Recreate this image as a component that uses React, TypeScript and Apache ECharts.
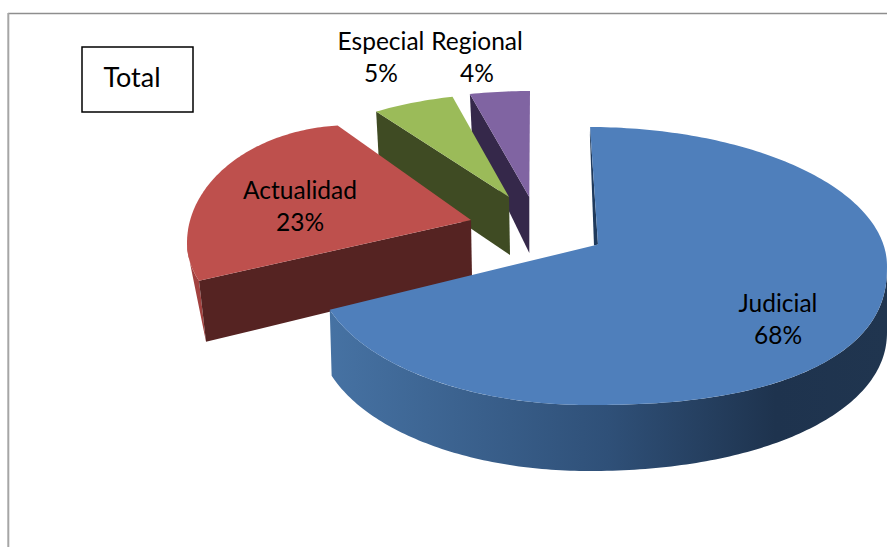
import React, { useEffect, useRef } from "react";
import * as echarts from "echarts";

const categories = ["Judicial", "Actualidad", "Especial", "Regional"];
const shares = [68, 23, 5, 4];
const boxTitle = "Total";

const topColors = ["#4f7fbb", "#be504d", "#9bbb59", "#8064a2"];
const cutColors = ["#1f3a5c", "#552322", "#3f4b23", "#35284a"];
const FONT = "Lato, Carlito, sans-serif";

type Oval = { cx: number; cy: number; rxL: number; rxR: number; ryT: number; ryB: number; nBR?: number };
type Layout = {
  rim: Oval;
  warp: [number, number];
  apex: [number, number];
  rimDepth: [number, number];
  apexDepth: [number, number];
  outer?: { from: number; bottom?: Oval; d1?: [number, number]; d2?: [number, number]; fill: any };
  label: [number, number];
};

// Hand-tuned projection of the tilted, exploded pie; the slice angles come from `shares`.
const layouts: Layout[] = [
  {
    rim: { cx: 588, cy: 266, rxL: 272, rxR: 299, ryT: 139, ryB: 139, nBR: 2.35 },
    warp: [0.4, 6.9],
    apex: [598, 244.5],
    rimDepth: [-0.2, 8],
    apexDepth: [-4, 1],
    outer: {
      from: 90,
      bottom: { cx: 588, cy: 332, rxL: 270, rxR: 299, ryT: 139, ryB: 139, nBR: 2.1 },
      fill: {
        type: "linear", x: 329, y: 0, x2: 887, y2: 0, global: true,
        colorStops: [
          { offset: 0, color: "#4672a3" },
          { offset: 0.5, color: "#2f5078" },
          { offset: 0.8, color: "#1e334e" },
          { offset: 1, color: "#20354f" },
        ],
      },
    },
    label: [778, 318],
  },
  {
    rim: { cx: 352, cy: 243, rxL: 165, rxR: 165, ryT: 118, ryB: 101 },
    warp: [3.2, 27.4],
    apex: [471, 220],
    rimDepth: [7, 61],
    apexDepth: [1, 57],
    outer: { from: 270, d1: [7, 61], d2: [3, 20], fill: "#a2413f" },
    label: [300, 205],
  },
  {
    rim: { cx: 505, cy: 251, rxL: 280, rxR: 280, ryT: 157, ryB: 157 },
    warp: [5.0, 3.6],
    apex: [509, 197],
    rimDepth: [3, 55],
    apexDepth: [1, 58],
    label: [381, 56.5],
  },
  {
    rim: { cx: 530, cy: 221, rxL: 280, rxR: 280, ryT: 130, ryB: 130 },
    warp: [2, 0],
    apex: [529.3, 197],
    rimDepth: [2, 41],
    apexDepth: [0, 56],
    label: [477, 56.5],
  },
];

const total = shares.reduce((a, b) => a + b, 0);
const drawOrder = [3, 2, 1, 0];

function rimPoint(o: Oval, deg: number): [number, number] {
  const t = (deg * Math.PI) / 180;
  let s = Math.sin(t);
  let c = Math.cos(t);
  if (o.nBR && s > 0 && c < 0) {
    const e = 2 / o.nBR;
    s = Math.pow(s, e);
    c = -Math.pow(-c, e);
  }
  return [o.cx + s * (s < 0 ? o.rxL : o.rxR), o.cy - c * (c > 0 ? o.ryT : o.ryB)];
}

function arc(o: Oval, a: number, b: number): [number, number][] {
  const n = Math.max(2, Math.ceil(Math.abs(b - a)));
  const pts: [number, number][] = [];
  for (let i = 0; i <= n; i++) pts.push(rimPoint(o, a + ((b - a) * i) / n));
  return pts;
}

function sliceAngles(i: number): [number, number] {
  const before = shares.slice(0, i).reduce((a, b) => a + b, 0);
  const start = (before / total) * 360;
  const end = ((before + shares[i]) / total) * 360;
  return [start + layouts[i].warp[0], end + layouts[i].warp[1]];
}

function renderSlice(_params: any, api: any) {
  const i = api.value(0) as number;
  const l = layouts[i];
  const [a, b] = sliceAngles(i);
  const children: any[] = [];
  const rimStart = rimPoint(l.rim, a);

  if (l.outer) {
    const o = l.outer;
    const upper = arc(l.rim, o.from, i === 0 ? b : a);
    let lower: [number, number][];
    if (o.bottom) {
      lower = arc(o.bottom, i === 0 ? b : a, o.from);
    } else {
      const p = upper[upper.length - 1];
      const q = upper[0];
      lower = [
        [p[0] + o.d1![0], p[1] + o.d1![1]],
        [q[0] + o.d2![0], q[1] + o.d2![1]],
      ];
    }
    children.push({
      type: "polygon",
      shape: { points: [...upper, ...lower] },
      style: { fill: o.fill },
    });
  }

  const cut: [number, number][] = [
    rimStart,
    l.apex,
    [l.apex[0] + l.apexDepth[0], l.apex[1] + l.apexDepth[1]],
    [rimStart[0] + l.rimDepth[0], rimStart[1] + l.rimDepth[1]],
  ];
  children.push({ type: "polygon", shape: { points: cut }, style: { fill: cutColors[i] } });

  children.push({
    type: "polygon",
    shape: { points: [...arc(l.rim, a, b), l.apex] },
    style: { fill: topColors[i] },
  });

  children.push({
    type: "text",
    z2: 50,
    style: {
      x: l.label[0],
      y: l.label[1],
      text: `${categories[i]}\n${shares[i]}%`,
      align: "center",
      verticalAlign: "middle",
      fontFamily: FONT,
      fontSize: 24.5,
      lineHeight: 32,
      fill: "#000",
    },
  });
  return { type: "group", children };
}

export default function App() {
  const ref = useRef<HTMLDivElement>(null);
  useEffect(() => {
    const chart = echarts.init(ref.current!, undefined, { renderer: "svg" });
    chart.setOption({
      animation: false,
      backgroundColor: "#ffffff",
      series: [
        {
          type: "custom",
          coordinateSystem: "none",
          clip: false,
          silent: true,
          data: drawOrder.map((i) => [i]),
          renderItem: renderSlice,
        },
      ],
      graphic: [
        { type: "line", shape: { x1: 8, y1: 13.5, x2: 887, y2: 13.5 }, style: { stroke: "#8e8e8e", lineWidth: 1.5 } },
        { type: "line", shape: { x1: 8.3, y1: 13, x2: 8.3, y2: 547 }, style: { stroke: "#a6a6a6", lineWidth: 2 } },
        {
          type: "rect",
          shape: { x: 82, y: 47, width: 111, height: 65 },
          style: { fill: "#fff", stroke: "#000", lineWidth: 1.5 },
        },
        {
          type: "text",
          style: {
            x: 132,
            y: 76.5,
            text: boxTitle,
            align: "center",
            verticalAlign: "middle",
            fontFamily: FONT,
            fontSize: 27,
            fill: "#000",
          },
        },
      ],
    });
    return () => chart.dispose();
  }, []);
  return <div ref={ref} style={{ position: "absolute", left: 0, top: 0, width: 887, height: 547 }} />;
}
